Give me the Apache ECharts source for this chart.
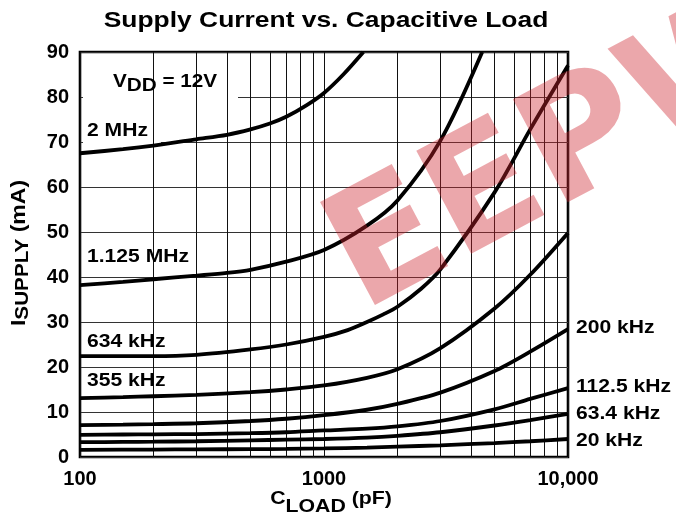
<!DOCTYPE html>
<html><head><meta charset="utf-8">
<script src="https://cdn.jsdelivr.net/npm/echarts@6/dist/echarts.min.js"></script>
<style>html,body{margin:0;padding:0;background:#fff}#c{width:676px;height:520px}</style>
</head><body><div id="c"></div>
<script>
var FONT = '"Liberation Sans", Arial, Helvetica, sans-serif';
var title = 'Supply Current vs. Capacitive Load';
var seriesNames = ['2 MHz','1.125 MHz','634 kHz','355 kHz','200 kHz','112.5 kHz','63.4 kHz','20 kHz'];
var xTicks = [100, 1000, 10000];
var xMinorGrid = [200,300,400,500,600,700,800,900,2000,3000,4000,5000,6000,7000,8000,9000];
var yTicks = [0,10,20,30,40,50,60,70,80,90];

var s2MHz   = [[100,67.5],[150,68.4],[200,69.2],[300,70.6],[400,71.6],[500,72.8],[600,74.1],[700,75.6],[850,78.2],[1000,80.9],[1200,85.0],[1450,90]];
var s1125k  = [[100,38.2],[150,38.9],[200,39.5],[300,40.3],[400,40.9],[500,41.6],[700,43.4],[1000,46.0],[1500,51.4],[2000,57.0],[3000,70.3],[4450,90]];
var s634k   = [[100,22.4],[150,22.4],[200,22.4],[300,22.7],[500,23.9],[700,25.0],[1000,26.7],[1250,28.2],[1500,30.0],[1750,31.7],[2000,33.4],[2500,37.4],[3000,41.7],[5000,58.8],[7000,72.8],[10000,87.0]];
var s355k   = [[100,13.1],[150,13.3],[200,13.5],[300,13.8],[500,14.4],[700,15.0],[1000,15.9],[1500,17.6],[2000,19.5],[3000,24.2],[5000,33.0],[7000,40.5],[10000,49.8]];
var s200k   = [[100,7.1],[150,7.2],[200,7.3],[300,7.5],[500,8.0],[700,8.5],[1000,9.3],[1500,10.5],[2000,11.8],[3000,14.3],[5000,19.1],[7000,23.4],[10000,28.4]];
var s112k   = [[100,4.9],[150,5.0],[200,5.05],[300,5.1],[500,5.3],[700,5.5],[1000,5.9],[1500,6.3],[2000,6.8],[3000,8.0],[5000,10.6],[7000,12.9],[10000,15.3]];
var s63k    = [[100,3.3],[150,3.35],[200,3.4],[300,3.5],[500,3.7],[700,3.85],[1000,4.0],[1500,4.3],[2000,4.7],[3000,5.5],[5000,7.0],[7000,8.2],[10000,9.6]];
var s20k    = [[100,1.6],[200,1.65],[300,1.7],[500,1.75],[700,1.8],[1000,1.9],[1500,2.1],[2000,2.3],[3000,2.6],[5000,3.1],[7000,3.5],[10000,4.0]];
var allSeries = [s2MHz, s1125k, s634k, s355k, s200k, s112k, s63k, s20k];

var chart = echarts.init(document.getElementById('c'), null, {renderer:'canvas'});

var series = allSeries.map(function(d, i){
  return {type:'line', name:seriesNames[i], data:d, smooth:0.3, symbol:'none',
    lineStyle:{color:'#000', width:3.8}, z:5, silent:true};
});
series.push({type:'line', data:[], silent:true, z:0,
  markLine:{silent:true, symbol:'none', label:{show:false},
    lineStyle:{color:'#111', width:1, type:'solid'},
    data: xMinorGrid.map(function(v){return {xAxis:v};})}});

function lbl(text, x, y){
  return {type:'text', x:x, y:y, z:50, scaleX:1.11,
    style:{text:text, fill:'#000', font:'bold 19px ' + FONT, align:'left', verticalAlign:'middle'}};
}
function box(x, y, w, h){
  return {type:'rect', shape:{x:x, y:y, width:w, height:h}, style:{fill:'#fff'}, z:1, silent:true};
}

var option = {
  animation:false,
  grid:{left:80, top:52, right:108, bottom:63, show:true, borderColor:'#000', borderWidth:2.6, backgroundColor:'transparent', z:0},
  xAxis:{type:'log', logBase:10, min:100, max:10000, z:0,
    axisLine:{show:false}, axisTick:{show:false},
    splitLine:{show:true, lineStyle:{color:'#111', width:1}},
    axisLabel:{color:'#000', fontFamily:FONT, fontWeight:'bold', fontSize:20, margin:12,
      formatter:function(v){return v>=10000?'10,000':String(v);}}},
  yAxis:{type:'value', min:0, max:90, interval:10, z:0,
    axisLine:{show:false}, axisTick:{show:false},
    splitLine:{show:true, lineStyle:{color:'#333', width:1}},
    axisLabel:{color:'#000', fontFamily:FONT, fontWeight:'bold', fontSize:20, margin:11}},
  series:series,
  graphic:[
    {type:'text', x:326, y:21, z:50, scaleX:1.2,
      style:{text:title, fill:'#000', font:'bold 22px '+FONT, align:'center', verticalAlign:'middle'}},
    box(83, 62, 155, 36),
    box(83, 115, 78, 30),
    box(83, 243, 112, 26),
    box(83, 329, 108, 25),
    box(83, 369, 108, 24),
    {type:'text', x:113, y:82, z:50, scaleX:1.15,
      style:{text:'{v|V}{s|DD}{v| = 12V}', align:'left', verticalAlign:'middle',
      rich:{v:{font:'bold 18px '+FONT, fill:'#000'}, s:{font:'bold 18px '+FONT, fill:'#000', padding:[8,0,0,0]}}}},
    lbl('2 MHz', 87, 131),
    lbl('1.125 MHz', 87, 257),
    lbl('634 kHz', 87, 342),
    lbl('355 kHz', 87, 381),
    lbl('200 kHz', 576, 328),
    lbl('112.5 kHz', 576, 387),
    lbl('63.4 kHz', 576, 414),
    lbl('20 kHz', 576, 441),
    {type:'text', x:19, y:253, rotation:Math.PI/2, z:50, scaleX:1.15,
      style:{text:'{v|I}{s|SUPPLY}{v| (mA)}', align:'center', verticalAlign:'middle',
        rich:{v:{font:'bold 20px '+FONT, fill:'#000'}, s:{font:'bold 18px '+FONT, fill:'#000', padding:[9,0,0,0]}}}},
    {type:'text', x:331, y:502, z:50, scaleX:1.12,
      style:{text:'{v|C}{s|LOAD}{v| (pF)}', align:'center', verticalAlign:'middle',
        rich:{v:{font:'bold 19px '+FONT, fill:'#000', padding:[0,0,6,0]}, s:{font:'bold 19px '+FONT, fill:'#000', padding:[10,0,0,0]}}}},
    {type:'text', x:380, y:346, rotation:0.49, z:100, silent:true,
      style:{text:'EEPW', font:'bold 160px "DejaVu Sans", sans-serif', fill:'rgba(205,35,45,0.4)', align:'left', verticalAlign:'bottom'}}
  ]
};
chart.setOption(option);
</script></body></html>
